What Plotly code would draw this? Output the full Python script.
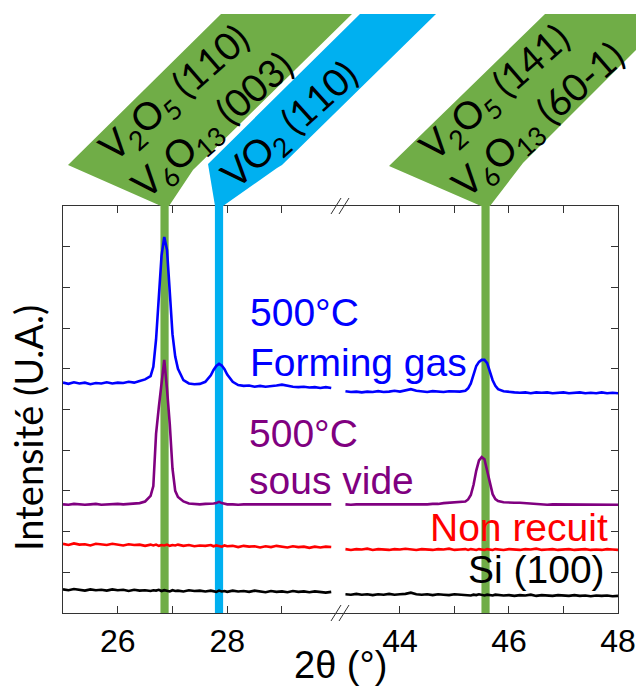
import plotly.graph_objects as go

# ---------------- data ----------------
LX = [25.0, 25.1, 25.2, 25.3, 25.4, 25.5, 25.6, 25.7, 25.8, 25.9, 26.0, 26.1, 26.2, 26.3, 26.4, 26.5, 26.6,
      26.65, 26.7, 26.75, 26.8, 26.85, 26.9, 26.95, 27.0, 27.05, 27.1,
      27.2, 27.3, 27.4, 27.5, 27.6, 27.7,
      27.75, 27.8, 27.85, 27.9, 27.95, 28.0,
      28.1, 28.2, 28.3, 28.4, 28.5, 28.6, 28.7, 28.8, 28.9, 29.0, 29.1, 29.2, 29.3, 29.4, 29.5, 29.6, 29.7, 29.8, 29.9]

blue_L = [5.66, 5.63, 5.67, 5.64, 5.66, 5.62, 5.65, 5.64, 5.67, 5.64, 5.66, 5.65, 5.68, 5.66, 5.70, 5.74, 5.82,
          6.05, 6.72, 7.85, 8.78, 9.24, 8.92, 7.90, 6.85, 6.30, 6.00,
          5.72, 5.64, 5.62, 5.63, 5.68, 5.84,
          5.97, 6.07, 6.12, 6.08, 5.99, 5.86,
          5.68, 5.60, 5.58, 5.59, 5.56, 5.58, 5.56, 5.57, 5.59, 5.61, 5.58, 5.56, 5.55, 5.56, 5.54, 5.55, 5.53, 5.55, 5.53]
purple_L = [2.67, 2.66, 2.68, 2.67, 2.66, 2.67, 2.68, 2.66, 2.67, 2.67, 2.68, 2.67, 2.68, 2.68, 2.70, 2.74, 2.88,
            3.12, 4.40, 5.05, 5.65, 6.22, 5.50, 4.65, 3.55, 3.00, 2.85,
            2.74, 2.69, 2.68, 2.67, 2.68, 2.68,
            2.69, 2.70, 2.73, 2.70, 2.68, 2.67,
            2.67, 2.66, 2.67, 2.67, 2.66, 2.67, 2.66, 2.67, 2.67, 2.66, 2.67, 2.66, 2.67, 2.66, 2.67, 2.66, 2.67, 2.66, 2.67]
red_L = [1.70, 1.67, 1.71, 1.68, 1.69, 1.66, 1.70, 1.68, 1.67, 1.70, 1.68, 1.66, 1.69, 1.67, 1.68, 1.65, 1.68,
         1.66, 1.68, 1.65, 1.67, 1.66, 1.68, 1.65, 1.67, 1.66, 1.68,
         1.65, 1.67, 1.64, 1.66, 1.65, 1.67,
         1.64, 1.66, 1.65, 1.63, 1.66, 1.64,
         1.65, 1.62, 1.65, 1.63, 1.64, 1.61, 1.64, 1.62, 1.65, 1.63, 1.61, 1.64, 1.62, 1.63, 1.60, 1.63, 1.61, 1.63, 1.62]
black_L = [0.58, 0.56, 0.59, 0.57, 0.55, 0.58, 0.56, 0.57, 0.55, 0.58, 0.56, 0.57, 0.54, 0.57, 0.55, 0.56, 0.54,
           0.56, 0.55, 0.57, 0.54, 0.56, 0.55, 0.53, 0.56, 0.54, 0.55,
           0.53, 0.56, 0.54, 0.55, 0.53, 0.55,
           0.54, 0.52, 0.55, 0.53, 0.54, 0.52,
           0.55, 0.53, 0.54, 0.52, 0.55, 0.53, 0.51, 0.54, 0.52, 0.53, 0.51, 0.54, 0.52, 0.53, 0.51, 0.53, 0.52, 0.50, 0.52]

RX = [43.0, 43.1, 43.2, 43.3, 43.4, 43.5, 43.6, 43.7, 43.8, 43.9, 44.0, 44.1, 44.2, 44.3, 44.4, 44.5, 44.6,
      44.7, 44.8, 44.9, 45.0, 45.1, 45.2,
      45.25, 45.3, 45.35, 45.4, 45.45, 45.5, 45.55, 45.6, 45.65, 45.7, 45.75, 45.8,
      45.9, 46.0, 46.1, 46.2, 46.3, 46.4, 46.5, 46.6, 46.7, 46.8, 46.9, 47.0, 47.1, 47.2, 47.3, 47.4, 47.5,
      47.6, 47.7, 47.8, 47.9, 48.0]

blue_R = [5.45, 5.43, 5.44, 5.42, 5.44, 5.43, 5.45, 5.43, 5.44, 5.46, 5.44, 5.47, 5.50, 5.46, 5.44, 5.43, 5.45,
          5.44, 5.43, 5.45, 5.44, 5.44, 5.46,
          5.52, 5.64, 5.88, 6.07, 6.17, 6.22, 6.22, 6.14, 5.93, 5.72, 5.58, 5.50,
          5.45, 5.43, 5.42, 5.41, 5.42, 5.40, 5.42, 5.41, 5.42, 5.40, 5.41, 5.42, 5.40, 5.41, 5.42, 5.40, 5.41,
          5.40, 5.42, 5.40, 5.41, 5.40]
purple_R = [2.67, 2.66, 2.67, 2.67, 2.66, 2.67, 2.66, 2.67, 2.67, 2.66, 2.67, 2.67, 2.66, 2.67, 2.67, 2.67, 2.68,
            2.68, 2.70, 2.71, 2.71, 2.72, 2.74,
            2.79, 2.90, 3.15, 3.50, 3.75, 3.83, 3.78, 3.50, 3.15, 2.92, 2.80, 2.75,
            2.72, 2.71, 2.71, 2.71, 2.70, 2.68, 2.67, 2.67, 2.66, 2.67, 2.67, 2.66, 2.67, 2.67, 2.66, 2.67, 2.66,
            2.67, 2.67, 2.66, 2.67, 2.66]
red_R = [1.57, 1.55, 1.57, 1.56, 1.58, 1.55, 1.57, 1.56, 1.55, 1.57, 1.56, 1.58, 1.56, 1.55, 1.57, 1.56, 1.55,
         1.57, 1.56, 1.58, 1.55, 1.56, 1.57,
         1.55, 1.57, 1.56, 1.55, 1.57, 1.56, 1.55, 1.57, 1.56, 1.55, 1.57, 1.56,
         1.55, 1.57, 1.56, 1.55, 1.57, 1.56, 1.58, 1.55, 1.56, 1.57, 1.55, 1.56, 1.57, 1.55, 1.56, 1.57, 1.55,
         1.56, 1.55, 1.57, 1.56, 1.55]
black_R = [0.46, 0.45, 0.47, 0.45, 0.46, 0.44, 0.46, 0.45, 0.47, 0.45, 0.46, 0.47, 0.50, 0.46, 0.45, 0.46, 0.44,
           0.46, 0.45, 0.44, 0.46, 0.45, 0.44,
           0.45, 0.43, 0.45, 0.44, 0.46, 0.44, 0.43, 0.45, 0.44, 0.43, 0.45, 0.44,
           0.43, 0.44, 0.42, 0.44, 0.43, 0.45, 0.42, 0.44, 0.43, 0.42, 0.44, 0.43, 0.42, 0.44, 0.42, 0.43, 0.41,
           0.43, 0.42, 0.43, 0.41, 0.42]

series_names = ["500°C Forming gas", "500°C sous vide", "Non recuit", "Si (100)"]
series_colors = ["#0000FF", "#800080", "#FF0000", "#000000"]
left_values = [blue_L, purple_L, red_L, black_L]
right_values = [blue_R, purple_R, red_R, black_R]

# reference peak positions (2theta) and their labels
peak_pos = [26.855, 27.85, 45.57]
peak_axis = ["x", "x", "x2"]
peak_colors = ["#70AD47", "#00B0F0", "#70AD47"]

x_ticks_left = [26, 27, 28, 29]
x_ticktext_left = ["26", "", "28", ""]
x_ticks_right = [44, 45, 46, 47, 48]
x_ticktext_right = ["44", "", "46", "", "48"]
y_ticks = [0, 1, 2, 3, 4, 5, 6, 7, 8, 9, 10]

# ---------------- geometry helpers (pixel -> paper) ----------------
W, H = 636, 686
L, R, T, B = 63, 18, 206, 73
PW, PH = W - L - R, H - T - B


def px(x):
    return (x - L) / PW


def py(y):
    return (H - B - y) / PH


SANS = "Liberation Sans, Arial, sans-serif"
CAL = "Lato, Carlito, sans-serif"

fig = go.Figure()

for name, col, lv, rv in zip(series_names, series_colors, left_values, right_values):
    fig.add_trace(go.Scatter(x=LX, y=lv, mode="lines", line=dict(color=col, width=2.6),
                             name=name, xaxis="x", yaxis="y", showlegend=False))
    fig.add_trace(go.Scatter(x=RX, y=rv, mode="lines", line=dict(color=col, width=2.6),
                             name=name, xaxis="x2", yaxis="y2", showlegend=False))

shapes = []
# vertical bands at peak positions
for pos, ax, col in zip(peak_pos, peak_axis, peak_colors):
    shapes.append(dict(type="rect", xref=ax, yref="paper", x0=pos - 0.075, x1=pos + 0.075,
                       y0=0, y1=1, fillcolor=col, line=dict(width=0), layer="below"))


def poly(points, color):
    d = "M " + " L ".join(f"{px(a):.4f},{py(b):.4f}" for a, b in points) + " Z"
    return dict(type="path", xref="paper", yref="paper", path=d, fillcolor=color,
                line=dict(width=0), layer="above")


shapes.append(poly([(221, 14), (352, 14), (193, 170), (169, 206), (161, 206), (68, 165)], "#70AD47"))
shapes.append(poly([(360, 14), (436, 14), (282, 165), (277, 168), (223, 206), (215, 206), (208, 164)], "#00B0F0"))
shapes.append(poly([(545, 14), (672, 14), (523, 163), (490, 206), (481, 206), (389, 166)], "#70AD47"))

# axis break marks
for ytop, ybot in [(198, 214), (605, 621)]:
    for xo in (0, 8):
        shapes.append(dict(type="line", xref="paper", yref="paper",
                           x0=px(331 + xo), y0=py(ybot), x1=px(341 + xo), y1=py(ytop),
                           line=dict(color="#333333", width=1), layer="above"))

annotations = []


def ann(text, x, y, size, color="black", xanchor="left", family=SANS, angle=0, align="left"):
    annotations.append(dict(text=text, x=px(x), y=py(y), xref="paper", yref="paper",
                            xanchor=xanchor, yanchor="middle", showarrow=False, textangle=angle,
                            align=align, font=dict(family=family, size=size, color=color)))


ann("500°C", 248, 312, 39, "#0000FF")
ann("Forming gas", 248, 362, 39, "#0000FF")
ann("500°C", 247, 433, 39, "#800080")
ann("sous vide", 247, 480, 39, "#800080")
ann("Non recuit", 610, 527, 39, "#FF0000", xanchor="right")
ann("Si (100)", 607, 569, 39, "#000000", xanchor="right")
ann("2θ (°)", 340, 665, 38, xanchor="center")
ann("Intensité (U.A.)", 28, 428, 38, xanchor="center", family=CAL, angle=-90)

ann("V<sub>2</sub>O<sub>5</sub> (110)<br>V<sub>6</sub>O<sub>13</sub> (003)", 197, 108, 38,
    xanchor="center", family=CAL, angle=-41)
ann("VO<sub>2</sub> (110)", 290, 126, 38, xanchor="center", family=CAL, angle=-42)
ann("V<sub>2</sub>O<sub>5</sub> (141)<br>V<sub>6</sub>O<sub>13</sub> (60-1)", 522, 102, 38,
    xanchor="center", family=CAL, angle=-41)

split = (340 - L) / PW
axis_common = dict(showline=True, linecolor="#333333", linewidth=1, ticks="inside", ticklen=7,
                   tickcolor="#333333", showgrid=False, zeroline=False, automargin=False,
                   tickfont=dict(family=SANS, size=32, color="black"))

fig.update_layout(
    width=W, height=H, margin=dict(l=L, r=R, t=T, b=B, autoexpand=False),
    paper_bgcolor="white", plot_bgcolor="white",
    xaxis=dict(domain=[0, split], anchor="y", range=[25, 30.06], tickmode="array",
               tickvals=x_ticks_left, ticktext=x_ticktext_left, mirror="allticks", **axis_common),
    xaxis2=dict(domain=[split, 1], anchor="y2", range=[42.9, 48], tickmode="array",
                tickvals=x_ticks_right, ticktext=x_ticktext_right, mirror="allticks", **axis_common),
    yaxis=dict(domain=[0, 1], anchor="x", range=[0, 10], tickmode="array", tickvals=y_ticks,
               showticklabels=False, **axis_common),
    yaxis2=dict(domain=[0, 1], anchor="x2", side="right", range=[0, 10], tickmode="array",
                tickvals=y_ticks, showticklabels=False, **axis_common),
    shapes=shapes, annotations=annotations, showlegend=False,
)

fig.write_html("out.html", config={"displayModeBar": False},
               post_script="document.body.style.margin='0';document.body.style.overflow='hidden';")
